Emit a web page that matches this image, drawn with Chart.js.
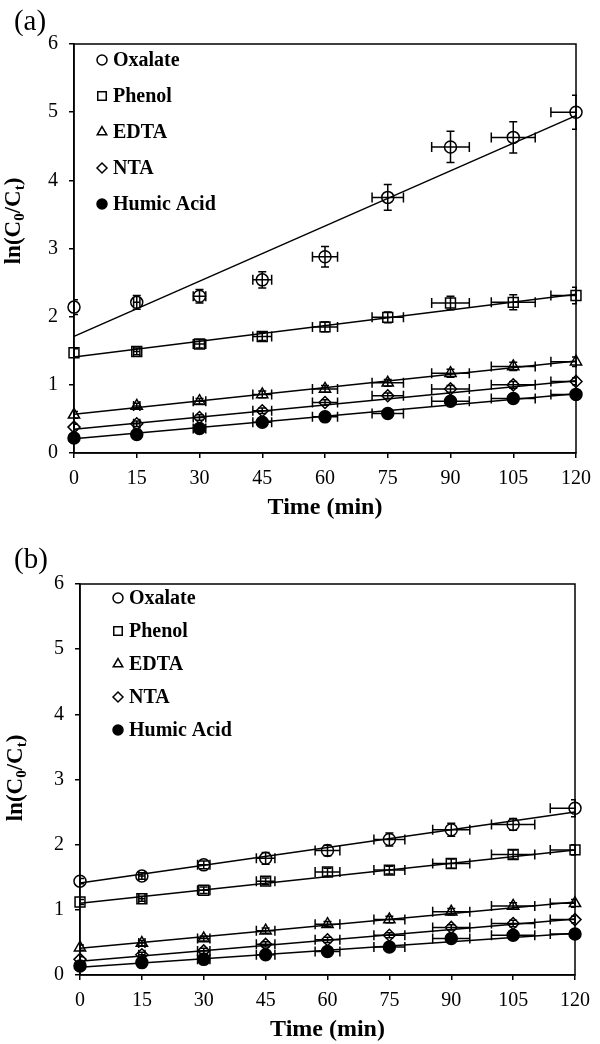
<!DOCTYPE html>
<html>
<head>
<meta charset="utf-8">
<script src="https://cdn.jsdelivr.net/npm/chart.js"></script>
<style>
html, body { margin: 0; padding: 0; background: #fff; }
.box { position: relative; width: 600px; }
#boxA { height: 522px; }
#boxB { height: 522px; }
</style>
</head>
<body>
<div class="box" id="boxA"><canvas id="chartA"></canvas></div>
<div class="box" id="boxB"><canvas id="chartB"></canvas></div>
<script>
// shared axes
var timeMin = [0, 15, 30, 45, 60, 75, 90, 105, 120];
var timeErr = [0, 0.75, 1.5, 2.25, 3, 3.75, 4.5, 5.25, 6];
var xTickValues = [0, 15, 30, 45, 60, 75, 90, 105, 120];
var yTickValues = [0, 1, 2, 3, 4, 5, 6];
var seriesNames = ['Oxalate', 'Phenol', 'EDTA', 'NTA', 'Humic Acid'];

// panel (a)
var oxalateA = [2.14, 2.21, 2.30, 2.54, 2.88, 3.75, 4.49, 4.63, 5.00];
var phenolA = [1.47, 1.49, 1.60, 1.71, 1.85, 1.99, 2.20, 2.21, 2.31];
var edtaA = [0.56, 0.69, 0.76, 0.86, 0.94, 1.03, 1.17, 1.27, 1.34];
var ntaA = [0.38, 0.43, 0.52, 0.62, 0.74, 0.84, 0.94, 1.00, 1.05];
var humicA = [0.22, 0.27, 0.36, 0.45, 0.53, 0.58, 0.76, 0.80, 0.86];
var oxalateErrA = [0.11, 0.10, 0.10, 0.12, 0.15, 0.19, 0.23, 0.23, 0.25];
var phenolErrA = [0.06, 0.05, 0.06, 0.06, 0.07, 0.08, 0.10, 0.11, 0.12];
var edtaErrA = [0.05, 0.04, 0.04, 0.05, 0.05, 0.05, 0.06, 0.06, 0.07];
var ntaErrA = [0.04, 0.04, 0.04, 0.04, 0.04, 0.04, 0.05, 0.05, 0.05];
var humicErrA = [0.04, 0.04, 0.04, 0.04, 0.04, 0.04, 0.05, 0.05, 0.05];
var fitStartA = [1.71, 1.41, 0.57, 0.35, 0.21];
var fitEndA = [4.95, 2.33, 1.35, 1.06, 0.87];

// panel (b)
var oxalateB = [1.44, 1.52, 1.69, 1.79, 1.91, 2.08, 2.23, 2.31, 2.56];
var phenolB = [1.12, 1.17, 1.30, 1.44, 1.58, 1.61, 1.71, 1.85, 1.92];
var edtaB = [0.42, 0.49, 0.56, 0.68, 0.78, 0.85, 0.97, 1.06, 1.10];
var ntaB = [0.24, 0.31, 0.37, 0.47, 0.54, 0.61, 0.73, 0.79, 0.85];
var humicB = [0.14, 0.19, 0.24, 0.31, 0.36, 0.43, 0.56, 0.61, 0.63];
var oxalateErrB = [0.04, 0.05, 0.06, 0.09, 0.08, 0.10, 0.10, 0.09, 0.13];
var phenolErrB = [0.04, 0.04, 0.05, 0.05, 0.06, 0.06, 0.07, 0.07, 0.08];
var edtaErrB = [0.04, 0.04, 0.04, 0.04, 0.04, 0.05, 0.05, 0.05, 0.06];
var ntaErrB = [0.04, 0.04, 0.04, 0.04, 0.04, 0.04, 0.04, 0.05, 0.05];
var humicErrB = [0.04, 0.04, 0.04, 0.04, 0.04, 0.04, 0.04, 0.05, 0.05];
var fitStartB = [1.41, 1.10, 0.41, 0.21, 0.12];
var fitEndB = [2.50, 1.92, 1.12, 0.86, 0.64];

var markerStyles = ['circle', 'rect', 'triangle', 'rectRot', 'circle'];
var markerSizes = [6, 7, 6.5, 6, 6];
var markerFilled = [false, false, false, false, true];
var serif = '"Liberation Serif", "Times New Roman", serif';

function buildDatasets(values, errs, fitStart, fitEnd) {
    var sets = [];
    for (var i = 0; i < seriesNames.length; i++) {
        sets.push({
            label: seriesNames[i] + ' fit',
            data: [{x: timeMin[0], y: fitStart[i]}, {x: timeMin[timeMin.length - 1], y: fitEnd[i]}],
            showLine: true,
            borderColor: '#000',
            borderWidth: 1.5,
            pointRadius: 0,
            clip: false
        });
        sets.push({
            label: seriesNames[i],
            data: timeMin.map(function(t, j) { return {x: t, y: values[i][j]}; }),
            errY: errs[i],
            errX: timeErr,
            pointStyle: markerStyles[i],
            pointRadius: markerSizes[i],
            backgroundColor: markerFilled[i] ? '#000' : 'rgba(0,0,0,0)',
            borderColor: '#000',
            borderWidth: 1.5,
            showLine: false,
            clip: false
        });
    }
    return sets;
}

// error bars, drawn through the scales
var errorBars = {
    id: 'errorBars',
    afterDatasetsDraw: function(chart) {
        var ctx = chart.ctx, area = chart.chartArea;
        var xs = chart.scales.x, ys = chart.scales.y;
        ctx.save();
        ctx.beginPath();
        ctx.rect(area.left - 1, 0, area.right - area.left + 2, chart.height);
        ctx.clip();
        ctx.strokeStyle = '#000';
        ctx.lineWidth = 1.5;
        chart.data.datasets.forEach(function(ds) {
            if (!ds.errY) return;
            ds.data.forEach(function(p, j) {
                var px = xs.getPixelForValue(p.x), py = ys.getPixelForValue(p.y);
                var y1 = ys.getPixelForValue(p.y + ds.errY[j]), y2 = ys.getPixelForValue(p.y - ds.errY[j]);
                ctx.beginPath();
                ctx.moveTo(px, y1); ctx.lineTo(px, y2);
                ctx.moveTo(px - 4, y1); ctx.lineTo(px + 4, y1);
                ctx.moveTo(px - 4, y2); ctx.lineTo(px + 4, y2);
                if (ds.errX[j] > 0) {
                    var x1 = xs.getPixelForValue(p.x - ds.errX[j]), x2 = xs.getPixelForValue(p.x + ds.errX[j]);
                    ctx.moveTo(x1, py); ctx.lineTo(x2, py);
                    ctx.moveTo(x1, py - 5); ctx.lineTo(x1, py + 5);
                    ctx.moveTo(x2, py - 5); ctx.lineTo(x2, py + 5);
                }
                ctx.stroke();
            });
        });
        ctx.restore();
    }
};

// frame, in-plot legend, panel letter and y title with subscripts
var decorations = {
    id: 'decorations',
    afterDraw: function(chart, args, opts) {
        var ctx = chart.ctx, a = chart.chartArea;
        ctx.save();
        ctx.strokeStyle = '#000';
        ctx.lineWidth = 1.5;
        ctx.strokeRect(a.left, a.top, a.right - a.left, a.bottom - a.top);

        // legend
        ctx.font = 'bold 20px ' + serif;
        ctx.textBaseline = 'middle';
        ctx.textAlign = 'left';
        ctx.fillStyle = '#000';
        for (var i = 0; i < seriesNames.length; i++) {
            var lx = a.left + opts.legendX, ly = a.top + opts.legendY + i * opts.legendGap;
            ctx.save();
            ctx.lineWidth = 1.5;
            ctx.strokeStyle = '#000';
            ctx.fillStyle = markerFilled[i] ? '#000' : 'rgba(0,0,0,0)';
            Chart.helpers.drawPoint(ctx, {pointStyle: markerStyles[i], radius: markerSizes[i] - 1, rotation: 0, borderWidth: 1.5}, lx, ly);
            ctx.restore();
            ctx.fillText(seriesNames[i], lx + 11, ly + 1);
        }

        // panel letter
        ctx.font = '29px ' + serif;
        ctx.textAlign = 'center';
        ctx.fillText(opts.letter, opts.letterX, opts.letterY);

        // y title ln(C0/Ct)
        var size = 23, sub = 15;
        var parts = [['ln(C', false], ['0', true], ['/C', false], ['t', true], [')', false]];
        var total = 0;
        parts.forEach(function(p) {
            ctx.font = 'bold ' + (p[1] ? sub : size) + 'px ' + serif;
            p.push(ctx.measureText(p[0]).width);
            total += p[2];
        });
        ctx.translate(opts.titleX, opts.titleY);
        ctx.rotate(-Math.PI / 2);
        ctx.textAlign = 'left';
        var cx = -total / 2;
        parts.forEach(function(p) {
            ctx.font = 'bold ' + (p[1] ? sub : size) + 'px ' + serif;
            ctx.fillText(p[0], cx, p[1] ? 6 : 0);
            cx += p[2];
        });
        ctx.restore();
    }
};

function makeChart(id, datasets, pad, yWidth, xHeight, deco) {
    var ctx = document.getElementById(id).getContext('2d');
    return new Chart(ctx, {
        type: 'scatter',
        data: { datasets: datasets },
        options: {
            responsive: true,
            maintainAspectRatio: false,
            animation: false,
            layout: { padding: pad },
            plugins: {
                legend: { display: false },
                tooltip: { enabled: false },
                decorations: deco
            },
            scales: {
                x: {
                    type: 'linear',
                    min: 0,
                    max: 120,
                    afterBuildTicks: function(s) { s.ticks = xTickValues.map(function(v) { return {value: v}; }); },
                    afterFit: function(s) { s.height = xHeight; },
                    ticks: { color: '#000', font: { family: serif, size: 20 }, padding: 9, maxRotation: 0 },
                    grid: { drawOnChartArea: false, drawTicks: true, tickLength: 5, color: '#000', lineWidth: 1.5 },
                    border: { color: '#000', width: 1.5 },
                    title: { display: true, text: 'Time (min)', color: '#000', font: { family: serif, size: 24, weight: 'bold' }, padding: 0 }
                },
                y: {
                    min: 0,
                    max: 6,
                    afterBuildTicks: function(s) { s.ticks = yTickValues.map(function(v) { return {value: v}; }); },
                    afterFit: function(s) { s.width = yWidth; },
                    ticks: { color: '#000', font: { family: serif, size: 20 }, padding: 11 },
                    grid: { drawOnChartArea: false, drawTicks: true, tickLength: 5, color: '#000', lineWidth: 1.5 },
                    border: { color: '#000', width: 1.5 }
                }
            }
        },
        plugins: [errorBars, decorations]
    });
}

var chartA = makeChart('chartA',
    buildDatasets([oxalateA, phenolA, edtaA, ntaA, humicA],
                  [oxalateErrA, phenolErrA, edtaErrA, ntaErrA, humicErrA], fitStartA, fitEndA),
    { left: 0, right: 16, top: 44, bottom: 0 }, 74, 69,
    { letter: '(a)', letterX: 30, letterY: 22, titleX: 14, titleY: 221, legendX: 28, legendY: 16, legendGap: 36 });

var chartB = makeChart('chartB',
    buildDatasets([oxalateB, phenolB, edtaB, ntaB, humicB],
                  [oxalateErrB, phenolErrB, edtaErrB, ntaErrB, humicErrB], fitStartB, fitEndB),
    { left: 0, right: 25, top: 62, bottom: 0 }, 80, 69,
    { letter: '(b)', letterX: 31, letterY: 38, titleX: 16, titleY: 256, legendX: 38, legendY: 14, legendGap: 33 });
</script>
</body>
</html>
